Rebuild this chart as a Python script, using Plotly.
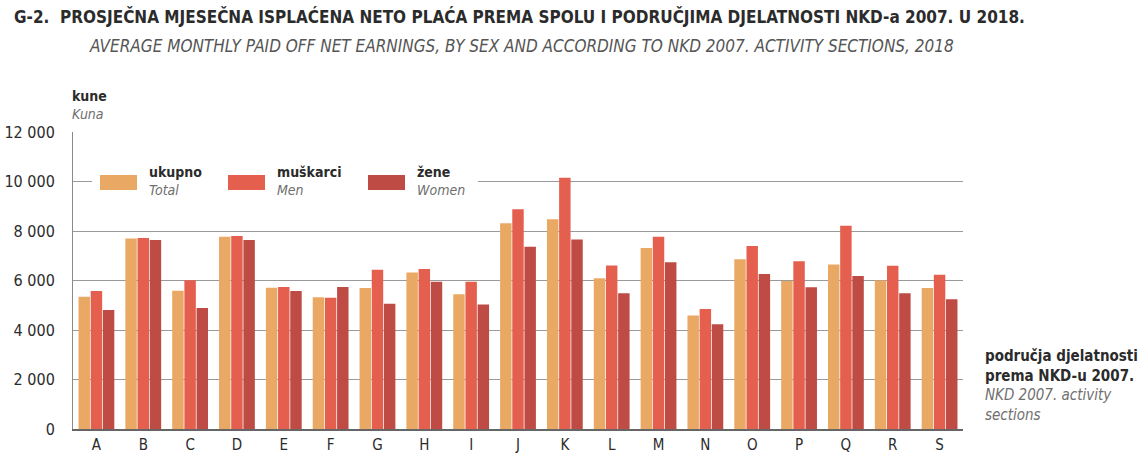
import plotly.graph_objects as go

# Average monthly paid-off net earnings by NKD 2007 activity section, 2018 (kuna)
sections = ["A", "B", "C", "D", "E", "F", "G", "H", "I", "J",
            "K", "L", "M", "N", "O", "P", "Q", "R", "S"]
total = [5345, 7700, 5590, 7770, 5710, 5320, 5700, 6320, 5440, 8310,
         8470, 6090, 7310, 4590, 6860, 5980, 6650, 6000, 5700]
men = [5575, 7715, 6010, 7800, 5740, 5305, 6430, 6465, 5950, 8875,
       10150, 6610, 7770, 4850, 7390, 6775, 8215, 6600, 6235]
women = [4810, 7640, 4890, 7640, 5575, 5740, 5065, 5950, 5035, 7365,
         7660, 5480, 6735, 4230, 6260, 5725, 6180, 5480, 5240]

series_hr = ["ukupno", "muškarci", "žene"]
series_en = ["Total", "Men", "Women"]
colors = ["#EAA865", "#E45F4E", "#BF4B45"]

y_ticks = [0, 2000, 4000, 6000, 8000, 10000, 12000]

FONT = "Liberation Sans Narrow, DejaVu Sans Condensed, Roboto Condensed, Arial Narrow, sans-serif"
DARK = "#2b2b2b"
GREY = "#6f6f6f"

fig = go.Figure()
for vals, name, col in zip([total, men, women], series_hr, colors):
    fig.add_trace(go.Bar(x=sections, y=vals, name=name, marker_color=col,
                         marker_line_width=0))

# plot area geometry in pixels (used for placing the custom legend)
W, H = 1145, 455
L, R, T, B = 73, 182, 132, 26
pw, ph = W - L - R, H - T - B


def px(x):
    return (x - L) / pw


def py(y):
    return (H - B - y) / ph


shapes = [
    # white band behind the legend, interrupting the gridline
    dict(type="rect", xref="paper", yref="paper", x0=px(92), x1=px(478),
         y0=py(205), y1=py(160), fillcolor="white", line_width=0, layer="above"),
]
annotations = []
swatch_x = [100, 228, 368]
for sx, col, hr, en in zip(swatch_x, colors, series_hr, series_en):
    shapes.append(dict(type="rect", xref="paper", yref="paper",
                       x0=px(sx), x1=px(sx + 37), y0=py(190), y1=py(175),
                       fillcolor=col, line_width=0, layer="above"))
    annotations.append(dict(xref="paper", yref="paper", x=px(sx + 47), y=py(162),
                            xanchor="left", yanchor="top", align="left",
                            showarrow=False,
                            text=f"<b>{hr}</b><br><span style='color:{GREY}'><i>{en}</i></span>",
                            font=dict(family=FONT, size=14, color=DARK)))

# axis unit
annotations.append(dict(xref="paper", yref="paper", x=px(70), y=py(86),
                        xanchor="left", yanchor="top", align="left", showarrow=False,
                        text=f"<b>kune</b><br><span style='color:{GREY}'><i>Kuna</i></span>",
                        font=dict(family=FONT, size=14, color=DARK)))
# category axis caption
annotations.append(dict(xref="paper", yref="paper", x=px(983), y=py(345),
                        xanchor="left", yanchor="top", align="left", showarrow=False,
                        text=("<b>područja djelatnosti</b><br><b>prema NKD-u 2007.</b><br>"
                              f"<span style='color:{GREY}'><i>NKD 2007. activity</i></span><br>"
                              f"<span style='color:{GREY}'><i>sections</i></span>"),
                        font=dict(family=FONT, size=15, color=DARK)))
# titles
annotations.append(dict(xref="paper", yref="paper", x=px(12), y=py(4),
                        xanchor="left", yanchor="top", showarrow=False,
                        text="<b>G-2.  PROSJEČNA MJESEČNA ISPLAĆENA NETO PLAĆA PREMA SPOLU I PODRUČJIMA DJELATNOSTI NKD-a 2007. U 2018.</b>",
                        font=dict(family=FONT, size=17, color=DARK)))
annotations.append(dict(xref="paper", yref="paper", x=px(87), y=py(34),
                        xanchor="left", yanchor="top", showarrow=False,
                        text="<i>AVERAGE MONTHLY PAID OFF NET EARNINGS, BY SEX AND ACCORDING TO NKD 2007. ACTIVITY SECTIONS, 2018</i>",
                        font=dict(family=FONT, size=17, color="#555555")))

fig.update_layout(
    width=W, height=H,
    margin=dict(l=L, r=R, t=T, b=B, pad=0, autoexpand=False),
    paper_bgcolor="white", plot_bgcolor="white",
    barmode="group", bargap=0.22, bargroupgap=0.06,
    showlegend=False,
    separators=", ",
    font=dict(family=FONT, size=14, color=DARK),
    shapes=shapes, annotations=annotations,
)
fig.update_yaxes(range=[0, 12000], tickvals=y_ticks, tickformat=",d",
                 showgrid=True, gridcolor="#9a9a9a", gridwidth=1,
                 showline=True, linecolor="#8a8a8a", linewidth=1,
                 zeroline=False, ticks="", ticklabelstandoff=14, automargin=False,
                 tickfont=dict(family=FONT, size=16, color=DARK))
fig.update_xaxes(showline=True, linecolor="#666666", linewidth=2,
                 ticks="", tickfont=dict(family=FONT, size=15, color=DARK),
                 ticklabelstandoff=1, automargin=False)

fig.write_html("out.html")
